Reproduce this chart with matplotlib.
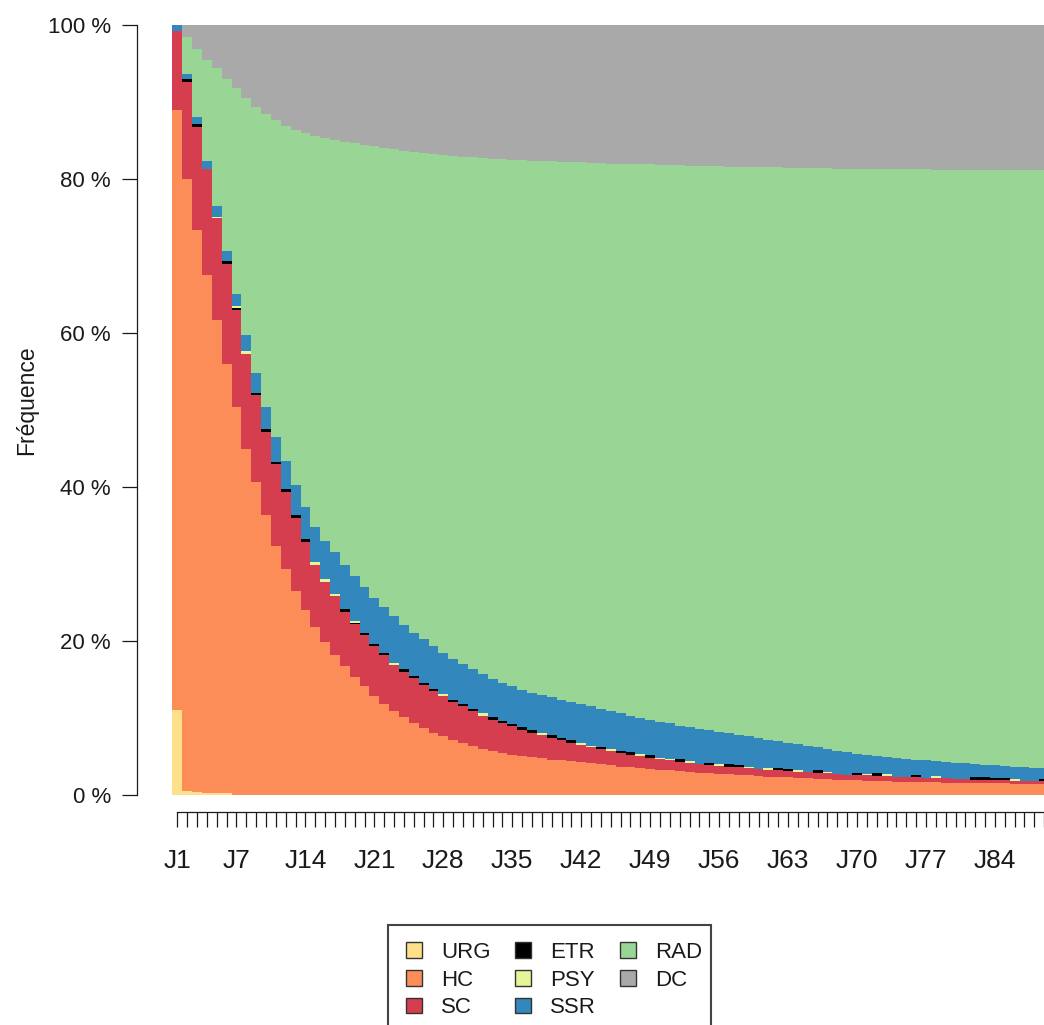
import numpy as np
import matplotlib
matplotlib.use("Agg")
import matplotlib.pyplot as plt
from matplotlib.patches import Patch, Rectangle

plt.rcParams['font.family'] = ['Liberation Sans', 'DejaVu Sans']

# days J1..J90
days = ["J%d" % (i + 1) for i in range(90)]
shown_labels = [1, 7, 14, 21, 28, 35, 42, 49, 56, 63, 70, 77, 84]

categories = ["URG", "HC", "SC", "ETR", "PSY", "SSR", "RAD", "DC"]
colors = ["#FEE08B", "#FC8D59", "#D53E4F", "#000000", "#E6F598",
          "#3288BD", "#99D594", "#A9A9A9"]

# % URG (bottom layer)
urg = [11.0, 0.5, 0.4, 0.3, 0.3, 0.25] + [0.0] * 84

# cumulative top of HC (URG + HC), %
top_hc = [89.0, 80.0, 73.4, 67.5, 61.7, 56.0, 50.4, 45.0, 40.6, 36.4,
          32.4, 29.3, 26.5, 24.0, 21.8, 19.9, 18.2, 16.7, 15.3, 14.1,
          12.8, 11.8, 10.9, 10.1, 9.4, 8.7, 8.1, 7.6, 7.1, 6.7,
          6.3, 6.0, 5.7, 5.45, 5.25, 5.05, 4.9, 4.75, 4.6, 4.5,
          4.4, 4.3, 4.15, 4.0, 3.85, 3.7, 3.6, 3.5, 3.4, 3.3,
          3.2, 3.1, 3.0, 2.9, 2.85, 2.75, 2.7, 2.6, 2.55, 2.5,
          2.4, 2.35, 2.3, 2.2, 2.15, 2.1, 2.05, 2.0, 1.95, 1.9,
          1.85, 1.85, 1.8, 1.75, 1.75, 1.7, 1.7, 1.65, 1.6, 1.6,
          1.55, 1.55, 1.5, 1.5, 1.5, 1.45, 1.45, 1.4, 1.4, 1.4]

# cumulative top of SC
top_sc = [99.2, 92.6, 86.8, 81.3, 74.9, 69.0, 63.0, 57.3, 51.9, 47.2,
          43.0, 39.4, 36.0, 32.9, 29.9, 27.7, 25.8, 23.8, 22.2, 20.8,
          19.3, 18.2, 16.9, 16.0, 15.2, 14.3, 13.5, 12.8, 12.1, 11.5,
          10.9, 10.3, 9.8, 9.3, 8.9, 8.5, 8.1, 7.8, 7.45, 7.1,
          6.8, 6.5, 6.2, 5.95, 5.7, 5.45, 5.25, 5.05, 4.85, 4.65,
          4.5, 4.35, 4.2, 4.05, 3.9, 3.8, 3.7, 3.6, 3.5, 3.4,
          3.3, 3.2, 3.1, 3.05, 2.95, 2.9, 2.8, 2.75, 2.65, 2.6,
          2.55, 2.5, 2.45, 2.4, 2.35, 2.3, 2.25, 2.2, 2.15, 2.1,
          2.05, 2.0, 2.0, 1.95, 1.9, 1.85, 1.85, 1.8, 1.8, 1.75]

# thin layers, %
etr = [0, 0.4, 0.4, 0, 0, 0.4, 0.3, 0, 0.3, 0.3,
       0.3, 0.3, 0.3, 0.3, 0, 0, 0, 0.3, 0.2, 0.3,
       0.3, 0.3, 0, 0.3, 0.3, 0.3, 0.3, 0, 0.3, 0.3,
       0.3, 0, 0.3, 0.3, 0.3, 0.3, 0.3, 0, 0.3, 0.3,
       0.3, 0, 0, 0.3, 0, 0.3, 0.3, 0, 0.3, 0,
       0, 0.3, 0, 0, 0.3, 0, 0.3, 0.3, 0, 0,
       0, 0.3, 0.3, 0, 0, 0.3, 0, 0, 0, 0.3,
       0, 0.3, 0, 0, 0, 0.3, 0, 0, 0, 0,
       0, 0.3, 0.3, 0.3, 0.3, 0, 0, 0, 0.3, 0]
psy = [0, 0, 0, 0, 0.2, 0, 0.2, 0.3, 0, 0,
       0, 0, 0, 0, 0.3, 0.3, 0.3, 0, 0.2, 0,
       0, 0, 0.3, 0, 0, 0, 0, 0.3, 0, 0,
       0, 0.3, 0, 0, 0, 0, 0, 0.3, 0, 0,
       0, 0.2, 0.2, 0, 0.3, 0, 0, 0.3, 0, 0.2,
       0.2, 0, 0.2, 0, 0, 0.2, 0, 0, 0.2, 0,
       0.25, 0, 0, 0.25, 0, 0, 0.2, 0, 0, 0,
       0.2, 0, 0.25, 0, 0, 0, 0, 0.25, 0, 0,
       0, 0, 0, 0, 0, 0.25, 0, 0, 0, 0.2]

# cumulative top of SSR
top_ssr = [100.0, 93.6, 88.0, 82.4, 76.5, 70.7, 65.1, 59.7, 54.8, 50.4,
           46.5, 43.4, 40.3, 37.4, 34.8, 33.0, 31.6, 29.9, 28.4, 27.0,
           25.6, 24.4, 23.2, 22.1, 21.1, 20.2, 19.3, 18.5, 17.7, 17.0,
           16.3, 15.7, 15.1, 14.6, 14.1, 13.7, 13.3, 13.0, 12.7, 12.4,
           12.1, 11.8, 11.5, 11.2, 10.9, 10.6, 10.3, 10.0, 9.8, 9.5,
           9.3, 9.0, 8.8, 8.6, 8.4, 8.2, 8.0, 7.8, 7.6, 7.4,
           7.2, 7.0, 6.8, 6.6, 6.4, 6.2, 6.0, 5.75, 5.55, 5.35,
           5.2, 5.05, 4.9, 4.8, 4.7, 4.6, 4.5, 4.4, 4.3, 4.2,
           4.1, 4.0, 3.9, 3.85, 3.75, 3.7, 3.6, 3.55, 3.5, 3.45]

# % DC (top layer)
dc = [0, 1.6, 3.1, 4.5, 5.6, 7.0, 8.2, 9.5, 10.7, 11.6,
      12.4, 13.1, 13.6, 14.0, 14.4, 14.7, 14.95, 15.15, 15.35, 15.55,
      15.75, 15.95, 16.15, 16.3, 16.45, 16.6, 16.75, 16.9, 17.0, 17.1,
      17.2, 17.3, 17.35, 17.4, 17.5, 17.55, 17.6, 17.65, 17.7, 17.75,
      17.8, 17.85, 17.9, 17.95, 18.0, 18.0, 18.05, 18.1, 18.1, 18.15,
      18.2, 18.2, 18.25, 18.3, 18.3, 18.35, 18.4, 18.4, 18.45, 18.45,
      18.5, 18.5, 18.55, 18.55, 18.6, 18.6, 18.6, 18.65, 18.65, 18.7,
      18.7, 18.7, 18.7, 18.75, 18.75, 18.75, 18.75, 18.8, 18.8, 18.8,
      18.8, 18.8, 18.8, 18.85, 18.85, 18.85, 18.85, 18.85, 18.85, 18.85]

urg = np.array(urg)
etr = np.array(etr)
psy = np.array(psy)
dc = np.array(dc)
hc = np.array(top_hc) - urg
sc = np.array(top_sc) - np.array(top_hc)
ssr = np.array(top_ssr) - np.array(top_sc) - etr - psy
rad = 100 - dc - np.array(top_ssr)
layers = [urg, hc, sc, etr, psy, ssr, rad, dc]

W, H = 1044, 1025
fig = plt.figure(figsize=(W / 100, H / 100), dpi=100)

# pixel geometry of the plot region (R style, 4% padding, right part cropped)
bar_px = 9.85
x0_px = 137.0
n = len(days)
xpad = 0.04 * n
ax_w = (n + 2 * xpad) * bar_px
y0_px, y100_px = 795.0, 25.0
unit = (y0_px - y100_px) / 100.0
ybot_px = y0_px + 4 * unit
ax_h = 108 * unit
ax = fig.add_axes([x0_px / W, (H - ybot_px) / H, ax_w / W, ax_h / H])

x = np.arange(n)
bottom = np.zeros(n)
for name, vals, c in zip(categories, layers, colors):
    ax.bar(x, vals, bottom=bottom, width=1.0, color=c, linewidth=0,
           antialiased=False, label=name)
    bottom = bottom + vals

ax.set_xlim(-0.5 - xpad, n - 0.5 + xpad)
ax.set_ylim(-4, 104)

txt = "#1a1a1a"
for s in ["top", "right"]:
    ax.spines[s].set_visible(False)
ax.spines["left"].set_bounds(0, 100)
ax.spines["bottom"].set_position(("data", -(812 - y0_px) / unit))
ax.spines["bottom"].set_bounds(0, n - 1)
for s in ["left", "bottom"]:
    ax.spines[s].set_linewidth(0.9)
    ax.spines[s].set_color(txt)

ax.set_xticks(x)
ax.set_xticklabels([d if (i + 1) in shown_labels else "" for i, d in enumerate(days)])
ax.tick_params(axis="x", direction="out", length=10.8, width=0.9, pad=16,
               labelsize=19, color=txt, labelcolor=txt)

yt = [0, 20, 40, 60, 80, 100]
ax.set_yticks(yt)
ax.set_yticklabels(["%d %%" % v for v in yt])
ax.tick_params(axis="y", direction="out", length=10.8, width=0.9, pad=8,
               labelsize=16, color=txt, labelcolor=txt)

fig.text(27 / W, 1 - 400 / H, "Fréquence", rotation=90, ha="center",
         va="center", fontsize=16.5, color=txt)

# legend (frame drawn by hand, bottom cropped like the source)
handles = [Patch(facecolor=c, edgecolor="#333333", linewidth=1.0) for c in colors]
fig.legend(handles, categories, loc="upper left", ncol=3, frameon=False,
           bbox_to_anchor=(406 / W, 1 - 942 / H), borderpad=0, borderaxespad=0,
           fontsize=16, handlelength=0.72, handleheight=0.72,
           handletextpad=0.85, columnspacing=1.1, labelspacing=0.3,
           labelcolor=txt)
fig.patches.append(Rectangle((388 / W, -0.02), (711 - 388) / W, (H - 925) / H + 0.02,
                             transform=fig.transFigure, fill=False,
                             edgecolor="#444444", linewidth=1.5))

fig.savefig("out.png", dpi=100)
